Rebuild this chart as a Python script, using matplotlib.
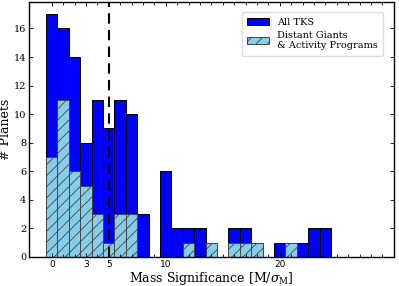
import matplotlib
matplotlib.use("Agg")
import matplotlib.pyplot as plt
import numpy as np
from matplotlib.ticker import FixedLocator

# Bin centres (mass significance, width 1)
bin_centers = list(range(0, 25))
# All TKS counts per bin
all_tks = [17, 16, 14, 8, 11, 9, 11, 10, 3, 0, 6, 2, 2, 2, 1, 0, 2, 2, 1, 0, 1, 1, 1, 2, 2]
# Distant Giants & Activity Programs counts per bin
dg_act = [7, 11, 6, 5, 3, 1, 3, 3, 0, 0, 0, 0, 1, 0, 1, 0, 1, 1, 1, 0, 0, 1, 0, 0, 0]

xtick_vals = [0, 3, 5, 10, 20]
ytick_vals = [0, 2, 4, 6, 8, 10, 12, 14, 16]
threshold = 5

plt.rcParams['hatch.color'] = '#333333'
plt.rcParams['hatch.linewidth'] = 0.6
plt.rcParams['mathtext.fontset'] = 'dejavuserif'

fig = plt.figure(figsize=(3.99, 2.86), dpi=100)
ax = fig.add_axes([0.0727, 0.1014, 0.914, 0.8916])

ax.bar(bin_centers, all_tks, width=1.0, color='blue', edgecolor='black',
       linewidth=0.7, label='All TKS')
ax.bar(bin_centers, dg_act, width=1.0, color='skyblue', edgecolor='#444444',
       linewidth=0.7, hatch='///', label='Distant Giants\n& Activity Programs')

ax.axvline(threshold, color='black', linestyle=(0, (5, 3)), linewidth=1.5)

ax.set_xlim(-2, 30)
ax.set_ylim(0, 17.85)

ax.xaxis.set_major_locator(FixedLocator(xtick_vals))
ax.xaxis.set_minor_locator(FixedLocator(list(range(0, 30))))
ax.yaxis.set_major_locator(FixedLocator(ytick_vals))

ax.tick_params(axis='both', which='both', direction='in', top=True, right=True)
ax.tick_params(axis='x', which='major', length=3, width=0.6, labelsize=6.5, pad=2)
ax.tick_params(axis='x', which='minor', length=2, width=0.6)
ax.tick_params(axis='y', which='major', length=3, width=0.6, labelsize=7, pad=2)
for lab in ax.get_xticklabels():
    lab.set_family('DejaVu Sans')
for lab in ax.get_yticklabels():
    lab.set_family('DejaVu Serif')

for sp in ax.spines.values():
    sp.set_linewidth(1.0)

ax.set_xlabel(r'Mass Significance $[\mathrm{M}/\sigma_{\mathrm{M}}]$',
              family='DejaVu Serif', fontsize=9, labelpad=1)
ax.set_ylabel('# Planets', family='DejaVu Serif', fontsize=9, labelpad=1)

leg = ax.legend(loc='upper right', prop={'family': 'DejaVu Serif', 'size': 7},
                frameon=True, fancybox=True, framealpha=1.0, edgecolor='#dddddd',
                handlelength=2.2, borderpad=0.6, labelspacing=0.4,
                bbox_to_anchor=(0.985, 0.98))

fig.savefig('out.png', dpi=100)
